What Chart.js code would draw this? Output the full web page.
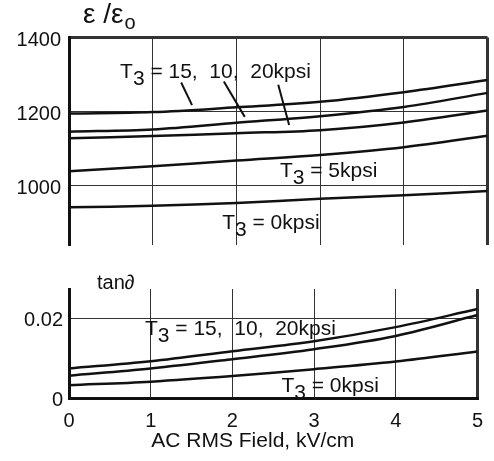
<!DOCTYPE html>
<html>
<head>
<meta charset="utf-8">
<script src="https://cdn.jsdelivr.net/npm/chart.js@4"></script>
<style>
  html, body { margin: 0; padding: 0; background: #fff; }
  body { width: 494px; height: 461px; position: relative; overflow: hidden; }
  canvas { position: absolute; left: 0; }
  #topChart { top: 0; }
  #lossChart { top: 270px; }
</style>
</head>
<body>
<canvas id="topChart" width="494" height="265"></canvas>
<canvas id="lossChart" width="494" height="191"></canvas>
<script>
// AC RMS field, kV/cm
const campo = [0, 1, 2, 3, 4, 5];

// relative permittivity for each T3 stress
const eps15 = [1194, 1198, 1211, 1226, 1252, 1285];
const eps10 = [1145, 1151, 1169, 1187, 1212, 1250];
const eps20 = [1127, 1133, 1141, 1149, 1170, 1202];
const eps5  = [1038, 1051, 1067, 1082, 1103, 1134];
const eps0  = [940, 944, 952, 963, 973, 984];

// loss tangent
const tan15 = [0.0075, 0.0093, 0.0118, 0.0143, 0.0178, 0.0223];
const tan20 = [0.0057, 0.0075, 0.0098, 0.0123, 0.0156, 0.0208];
const tan0  = [0.0033, 0.0042, 0.0056, 0.0073, 0.0092, 0.0117];

const epsTicks = [1000, 1200, 1400];
const tanTicks = [0, 0.02];

const FONTE = '"Liberation Sans", Arial, sans-serif';
const PRETO = '#111';
const GRADE = '#333';

const pontos = ys => ys.map((y, i) => ({ x: campo[i], y }));
const serie = ys => ({ data: pontos(ys), borderColor: PRETO, borderWidth: 2.5, pointRadius: 0, fill: false, tension: 0.35 });

// T3 labels and leader lines, in data units
const notasTopo = [
  { x: 0.61, y: 1290, resto: ' = 15,  10,  20kpsi' },
  { x: 2.52, y: 1023, resto: ' = 5kpsi' },
  { x: 1.83, y: 880, resto: ' = 0kpsi' }
];
const guiasTopo = [
  [1.34, 1278, 1.47, 1217],
  [1.85, 1281, 2.10, 1185],
  [2.50, 1272, 2.63, 1163]
];
const notasBaixo = [
  { x: 0.93, y: 0.0158, resto: ' = 15,  10,  20kpsi' },
  { x: 2.60, y: 0.00165, resto: ' = 0kpsi' }
];

function desenhaT3(ctx, px, py, resto) {
  ctx.font = '21px ' + FONTE;
  ctx.fillText('T', px, py);
  let w = ctx.measureText('T').width;
  ctx.fillText('3', px + w, py + 7);
  w += ctx.measureText('3').width;
  ctx.fillText(resto, px + w, py);
}

const notas = (lista, guias, rotulo) => ({
  id: 'notas',
  afterDraw(chart) {
    const ctx = chart.ctx, sx = chart.scales.x, sy = chart.scales.y, area = chart.chartArea;
    ctx.save();
    ctx.fillStyle = PRETO;
    ctx.textBaseline = 'alphabetic';
    ctx.textAlign = 'left';
    lista.forEach(n => desenhaT3(ctx, sx.getPixelForValue(n.x), sy.getPixelForValue(n.y), n.resto));
    ctx.strokeStyle = PRETO;
    ctx.lineWidth = 2;
    guias.forEach(g => {
      ctx.beginPath();
      ctx.moveTo(sx.getPixelForValue(g[0]), sy.getPixelForValue(g[1]));
      ctx.lineTo(sx.getPixelForValue(g[2]), sy.getPixelForValue(g[3]));
      ctx.stroke();
    });
    rotulo(ctx, area, sx);
    ctx.restore();
  }
});

const larguraGrade = bordas => c => bordas.includes(c.tick.value) ? 3 : 1;

new Chart(document.getElementById('topChart'), {
  type: 'line',
  data: { datasets: [serie(eps15), serie(eps10), serie(eps20), serie(eps5), serie(eps0)] },
  options: {
    responsive: false,
    animation: false,
    devicePixelRatio: 1,
    layout: { padding: { top: 37.5, right: 6.5, bottom: 5, left: 0 } },
    plugins: { legend: { display: false }, tooltip: { enabled: false } },
    scales: {
      x: {
        type: 'linear', min: 0, max: 5,
        ticks: { stepSize: 1, display: false },
        grid: { color: GRADE, lineWidth: larguraGrade([0, 5]), drawTicks: false },
        border: { display: false },
        afterFit: s => { s.height = 0; }
      },
      y: {
        min: 838, max: 1400,
        afterBuildTicks: s => { s.ticks = epsTicks.map(v => ({ value: v })); },
        ticks: { color: PRETO, font: { family: FONTE, size: 20 }, padding: 8, labelOffset: 3, callback: v => String(v) },
        grid: { color: GRADE, lineWidth: larguraGrade([1400]), drawTicks: false },
        border: { display: true, width: 3, color: PRETO },
        afterFit: s => { s.width = 69; }
      }
    }
  },
  plugins: [notas(notasTopo, guiasTopo, (ctx, area) => {
    ctx.font = '28px ' + FONTE;
    ctx.fillText('ε /ε', area.left + 14, area.top - 15);
    const w = ctx.measureText('ε /ε').width;
    ctx.font = '20px ' + FONTE;
    ctx.fillText('o', area.left + 15 + w, area.top - 9);
  })]
});

new Chart(document.getElementById('lossChart'), {
  type: 'line',
  data: { datasets: [serie(tan15), serie(tan20), serie(tan0)] },
  options: {
    responsive: false,
    animation: false,
    devicePixelRatio: 1,
    layout: { padding: { top: 19, right: 6.5, bottom: 0, left: 0 } },
    plugins: { legend: { display: false }, tooltip: { enabled: false } },
    scales: {
      x: {
        type: 'linear', min: 0, max: 5,
        ticks: { stepSize: 1, color: PRETO, font: { family: FONTE, size: 20 }, padding: 11 },
        grid: { color: GRADE, lineWidth: larguraGrade([0, 5]), drawTicks: false },
        border: { display: true, width: 3, color: PRETO },
        afterFit: s => { s.height = 62.5; }
      },
      y: {
        min: 0, max: 0.0273,
        afterBuildTicks: s => { s.ticks = tanTicks.map(v => ({ value: v })); },
        ticks: { color: PRETO, font: { family: FONTE, size: 20 }, padding: 6, labelOffset: 2, callback: v => String(v) },
        grid: { color: GRADE, lineWidth: 1, drawTicks: false },
        border: { display: true, width: 3, color: PRETO },
        afterFit: s => { s.width = 69; }
      }
    }
  },
  plugins: [notas(notasBaixo, [], (ctx, area, sx) => {
    ctx.font = '20px ' + FONTE;
    ctx.fillText('tan∂', area.left + 28, area.top);
    // x-axis title sits a little left of centre in the original
    ctx.font = '21px ' + FONTE;
    ctx.textAlign = 'center';
    ctx.fillText('AC RMS Field, kV/cm', sx.getPixelForValue(2.25), area.bottom + 48);
  })]
});
</script>
</body>
</html>
